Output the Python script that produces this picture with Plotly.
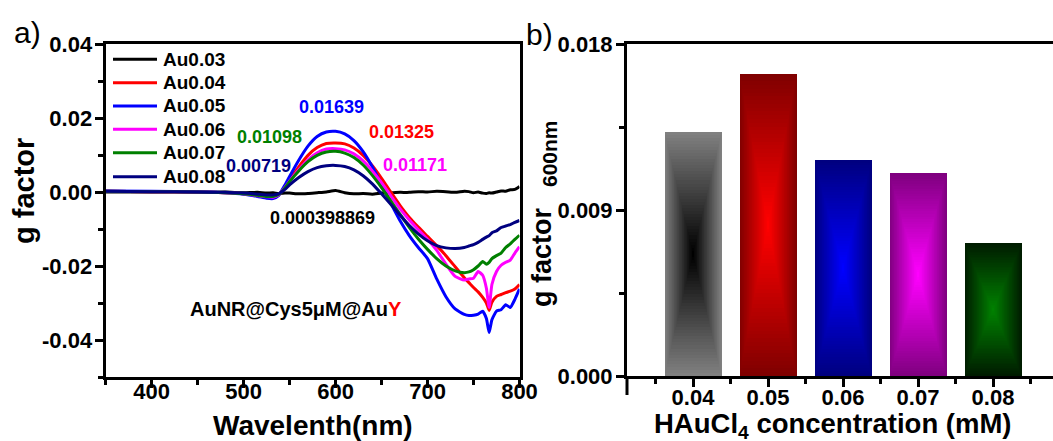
import plotly.graph_objects as go

# ---------------- data ----------------
wavelength = [350, 400, 450, 480, 500, 515, 525, 532, 538, 545,
              550, 560, 570, 580, 590, 600, 610, 620, 630, 640,
              650, 660, 670, 680, 690, 700, 710, 720, 730, 740,
              745, 750, 755, 760, 764, 767, 770, 775, 780, 785,
              790, 795, 800]

au003 = [0.0, 0.0001, -0.0001, 0.0, -0.0002, -0.0001, -0.0003, -0.0002, -0.0004, -0.0003,
         -0.0003, -0.0005, -0.0004, -0.0002, 0.0, 0.000398869, -0.0002, -0.0005, -0.0004, -0.0006,
         -0.0003, -0.0002, -0.0001, -0.0001, 0.0001, 0.0, 0.0002, 0.0001, -0.0001, 0.0002,
         0.0001, -0.0002, 0.0, -0.0003, -0.0004, -0.0002, -0.0003, 0.0, 0.0003, 0.0002,
         0.0006, 0.0007, 0.0015]

au004 = [0.0002, 0.0001, 0.0, -0.0002, -0.0005, -0.0010, -0.0014, -0.0015, -0.0008, 0.0014,
         0.0033, 0.0068, 0.0099, 0.0120, 0.0131, 0.01325, 0.0130, 0.0119, 0.0099, 0.0071,
         0.0037, 0.0000, -0.0036, -0.0068, -0.0095, -0.0120, -0.0145, -0.0172, -0.0202, -0.0232,
         -0.0245, -0.0258, -0.0270, -0.0285, -0.0300, -0.0320, -0.0298, -0.0282, -0.0277, -0.0272,
         -0.0268, -0.0262, -0.0250]

au005 = [0.0003, 0.0002, 0.0001, -0.0002, -0.0006, -0.0012, -0.0017, -0.0018, -0.0010, 0.0019,
         0.0042, 0.0086, 0.0124, 0.0150, 0.0162, 0.01639, 0.0157, 0.0139, 0.0109, 0.0068,
         0.0020, -0.0030, -0.0077, -0.0117, -0.0150, -0.0180, -0.0235, -0.0283, -0.0316, -0.0331,
         -0.0334, -0.0333, -0.0330, -0.0322, -0.0342, -0.0380, -0.0345, -0.0322, -0.0318, -0.0305,
         -0.0312, -0.0290, -0.0262]

au006 = [0.0002, 0.0001, 0.0, -0.0002, -0.0005, -0.0010, -0.0013, -0.0014, -0.0008, 0.0012,
         0.0029, 0.0060, 0.0087, 0.0106, 0.0116, 0.01171, 0.0114, 0.0103, 0.0084, 0.0057,
         0.0025, -0.0010, -0.0045, -0.0075, -0.0102, -0.0128, -0.0158, -0.0195, -0.0228, -0.0238,
         -0.0235, -0.0233, -0.0215, -0.0225, -0.0260, -0.0312, -0.0250, -0.0215, -0.0198, -0.0190,
         -0.0184, -0.0165, -0.0148]

au007 = [0.0002, 0.0001, 0.0, -0.0002, -0.0005, -0.0009, -0.0012, -0.0012, -0.0007, 0.0011,
         0.0028, 0.0057, 0.0082, 0.0099, 0.0108, 0.01098, 0.0105, 0.0093, 0.0073, 0.0045,
         0.0012, -0.0024, -0.0060, -0.0095, -0.0127, -0.0155, -0.0180, -0.0200, -0.0213, -0.0218,
         -0.0216, -0.0210, -0.0200, -0.0188, -0.0195, -0.0190, -0.0180, -0.0172, -0.0165, -0.0150,
         -0.0140, -0.0128, -0.0117]

au008 = [0.0002, 0.0001, 0.0, -0.0001, -0.0003, -0.0006, -0.0008, -0.0008, -0.0005, 0.0007,
         0.0019, 0.0039, 0.0055, 0.0066, 0.0071, 0.00719, 0.0069, 0.0060, 0.0044, 0.0022,
         -0.0005, -0.0033, -0.0062, -0.0090, -0.0113, -0.0132, -0.0145, -0.0151, -0.0153, -0.0150,
         -0.0146, -0.0142, -0.0136, -0.0128, -0.0122, -0.0118, -0.0110, -0.0105, -0.0096, -0.0092,
         -0.0088, -0.0082, -0.0077]

series_names = ["Au0.03", "Au0.04", "Au0.05", "Au0.06", "Au0.07", "Au0.08"]
series_values = [au003, au004, au005, au006, au007, au008]
series_colors = ["#000000", "#ff0000", "#0000ff", "#ff00ff", "#008000", "#000080"]

g_ticks = [-0.04, -0.02, 0.0, 0.02, 0.04]

# g factor at 600 nm versus HAuCl4 concentration
conc = [0.04, 0.05, 0.06, 0.07, 0.08]
conc_labels = ["0.04", "0.05", "0.06", "0.07", "0.08"]
g600 = [0.01325, 0.01639, 0.01171, 0.01098, 0.00719]
bar_edge = [(128, 128, 128), (128, 0, 0), (0, 0, 128), (128, 0, 128), (0, 28, 0)]
bar_core = [(0, 0, 0), (255, 0, 0), (0, 0, 255), (255, 0, 255), (0, 128, 0)]

# ---------------- layout helpers ----------------
FIG_W, FIG_H = 1053, 441
FONT = "Liberation Sans, Arial, sans-serif"


def px(x):
    return x / FIG_W


def py(y):
    return 1 - y / FIG_H


fig = go.Figure()

# spectra (panel a)
for name, vals, col in zip(series_names, series_values, series_colors):
    fig.add_trace(go.Scatter(x=wavelength, y=vals, mode="lines", name=name,
                             line=dict(color=col, width=3, shape="spline", smoothing=0.5),
                             showlegend=False, xaxis="x", yaxis="y"))

# bars with a centred box gradient (panel b): nested rectangles
N_LEVELS = 40
BAR_W = 0.0076
for k in range(N_LEVELS):
    t = k / N_LEVELS
    s = k / (N_LEVELS - 1)
    cols = []
    for e, c in zip(bar_edge, bar_core):
        r, g, b = (round(e[i] + (c[i] - e[i]) * s) for i in range(3))
        cols.append(f"rgb({r},{g},{b})")
    fig.add_trace(go.Bar(
        x=conc,
        y=[h * (1 - t) for h in g600],
        base=[h * t / 2 for h in g600],
        width=[BAR_W * (1 - t)] * len(conc),
        marker=dict(color=cols, line=dict(width=0)),
        xaxis="x2", yaxis="y2", showlegend=False, hoverinfo="skip"))

tickfont = dict(family=FONT, size=22, color="black", weight="bold")
axis_common = dict(showline=True, linecolor="black", linewidth=3,
                   ticks="outside", ticklen=8, tickwidth=2.5, tickcolor="black",
                   showgrid=False, zeroline=False, tickfont=tickfont,
                   automargin=False)

fig.update_layout(
    template="none",
    width=FIG_W, height=FIG_H, autosize=False,
    margin=dict(l=0, r=0, t=0, b=0, pad=0),
    paper_bgcolor="white", plot_bgcolor="white",
    barmode="overlay", bargap=0, showlegend=False,
    xaxis=dict(domain=[px(105.6), px(519.5)], range=[350, 800], anchor="y",
               tick0=400, dtick=100, mirror=True, ticklabelstandoff=-15,
               minor=dict(tick0=350, dtick=50, ticks="outside", ticklen=5,
                          tickwidth=2.5, tickcolor="black"),
               **axis_common),
    yaxis=dict(domain=[py(377), py(44)], range=[-0.05, 0.04], anchor="x",
               tickmode="array", tickvals=g_ticks,
               ticktext=[f"{v:.2f}".replace("-0.00", "0.00") for v in g_ticks],
               mirror=True, ticklabelstandoff=-2,
               minor=dict(tick0=0, dtick=0.01, ticks="outside", ticklen=5,
                          tickwidth=2.5, tickcolor="black"),
               **axis_common),
    xaxis2=dict(domain=[px(627), 1.0], range=[0.0312, 0.088], anchor="y2",
                tickmode="array", tickvals=conc, ticktext=conc_labels, mirror=True,
                ticklabelstandoff=-8,
                minor=dict(tickmode="array", tickvals=[c - 0.005 for c in conc] + [conc[-1] + 0.005],
                           ticks="outside", ticklen=5, tickwidth=2.5, tickcolor="black"),
                **axis_common),
    yaxis2=dict(domain=[py(376), py(44)], range=[0, 0.018], anchor="x2",
                tick0=0, dtick=0.009, tickformat=".3f", ticklabelstandoff=-1,
                minor=dict(tick0=0, dtick=0.0045, ticks="outside", ticklen=5,
                           tickwidth=2.5, tickcolor="black"),
                **axis_common),
)

shapes = []
annotations = []


def note(text, x, y, size=18, color="black", bold=True, angle=0, xanchor="center"):
    annotations.append(dict(text=text, x=px(x), y=py(y), xref="paper", yref="paper",
                            showarrow=False, textangle=angle, xanchor=xanchor, yanchor="middle",
                            font=dict(family=FONT, size=size, color=color,
                                      weight="bold" if bold else "normal")))


# legend of panel a
legend_rows = [59.3, 82.7, 106, 129.3, 152.7, 176.7]
for name, col, yy in zip(series_names, series_colors, legend_rows):
    shapes.append(dict(type="line", xref="paper", yref="paper",
                       x0=px(113), x1=px(157), y0=py(yy), y1=py(yy),
                       line=dict(color=col, width=3)))
    note(name, 161, yy, size=19, xanchor="left")

# peak value labels
note(f"{g600[1]:.5f}", 331, 107, color=series_colors[2])
note(f"{g600[0]:.5f}", 401, 132, color=series_colors[1])
note(f"{g600[3]:.5f}", 269, 137, color=series_colors[4])
note(f"{g600[4]:.5f}", 258, 166, color=series_colors[5])
note(f"{g600[2]:.5f}", 415, 165, color=series_colors[3])
note(f"{au003[wavelength.index(600)]}", 322, 218, color="black")
note("AuNR@Cys5μM@Au<span style='color:#ff0000'>Y</span>", 296, 309, size=20)

# panel letters and axis titles
note("a)", 27, 32, size=30, bold=False)
note("b)", 539, 34, size=30, bold=False)
note("g factor", 24, 191, size=29, angle=-90)
note("Wavelenth(nm)", 312.5, 425, size=28)
note("g factor", 542, 257, size=27, angle=-90)
note("600nm", 550, 153, size=21, angle=-90)
note("HAuCl<sub>4</sub> concentration (mM)", 652, 425, size=27.5, xanchor="left")

# y axis of panel b runs a little below the x axis
shapes.append(dict(type="line", xref="paper", yref="paper",
                   x0=px(627), x1=px(627), y0=py(376), y1=py(395),
                   line=dict(color="black", width=3)))

fig.update_layout(shapes=shapes, annotations=annotations)
fig.write_html("out.html")
